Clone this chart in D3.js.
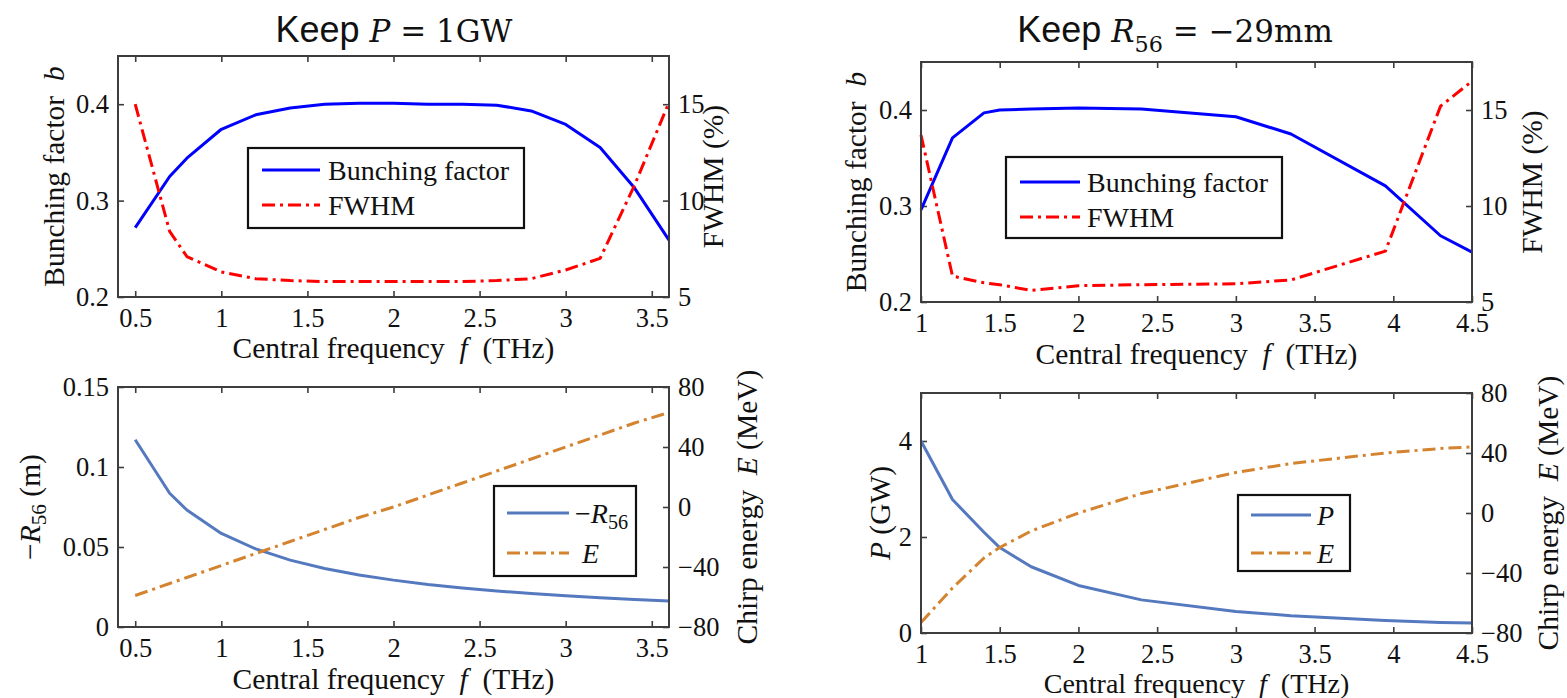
<!DOCTYPE html>
<html>
<head>
<meta charset="utf-8">
<script src="https://cdn.jsdelivr.net/npm/d3@7"></script>
<style>
  body { margin: 0; background: #fff; }
  svg text { font-family: "Liberation Serif", "Times New Roman", serif; fill: #111; }
</style>
</head>
<body>
<svg id="fig" width="1567" height="698"></svg>
<script>
// ---- Left column: constant peak power P = 1 GW ----
const freqP  = [0.5, 0.7, 0.8, 1.0, 1.2, 1.4, 1.6, 1.8, 2.0, 2.2, 2.4, 2.6, 2.8, 3.0, 3.2, 3.4, 3.6];
const bunchP = [0.272, 0.325, 0.344, 0.374, 0.389, 0.396, 0.400, 0.401, 0.401, 0.400, 0.400, 0.399, 0.393, 0.379, 0.355, 0.313, 0.259];
const fwhmP  = [15.0, 8.4, 7.1, 6.3, 5.95, 5.85, 5.8, 5.8, 5.8, 5.8, 5.8, 5.85, 5.95, 6.4, 7.0, 10.8, 15.1];
const r56P   = [0.117, 0.0836, 0.0731, 0.0585, 0.0488, 0.0418, 0.0366, 0.0325, 0.0293, 0.0266, 0.0244, 0.0225, 0.0209, 0.0195, 0.0183, 0.0172, 0.0163];
const chirpP = [-59, -51, -47, -39, -31, -23, -15, -7, 0, 8, 16, 24, 32, 40, 48, 56, 63];

// ---- Right column: constant R56 = -29 mm ----
const freqR  = [1.0, 1.2, 1.4, 1.5, 1.7, 2.0, 2.4, 3.0, 3.35, 3.95, 4.3, 4.5];
const bunchR = [0.296, 0.371, 0.397, 0.400, 0.401, 0.402, 0.401, 0.393, 0.375, 0.321, 0.269, 0.252];
const fwhmR  = [13.7, 6.35, 6.0, 5.9, 5.6, 5.85, 5.9, 5.95, 6.15, 7.65, 15.2, 16.5];
const powerR = [4.0, 2.78, 2.1, 1.78, 1.38, 0.99, 0.69, 0.45, 0.36, 0.26, 0.22, 0.21];
const chirpR = [-73, -50, -30, -23, -12, 0, 13, 27, 33, 40, 43, 44];

// ---- Tick values ----
const xTicksP    = [0.5, 1, 1.5, 2, 2.5, 3, 3.5];
const xTicksR    = [1, 1.5, 2, 2.5, 3, 3.5, 4, 4.5];
const bTicks     = [0.2, 0.3, 0.4];
const fwhmTicks  = [5, 10, 15];
const r56Ticks   = [0, 0.05, 0.1, 0.15];
const powerTicks = [0, 2, 4];
const chirpTicks = [-80, -40, 0, 40, 80];

const SERIF = '"Liberation Serif", "Times New Roman", serif';
const SANS = '"Liberation Sans", Arial, sans-serif';
const MATH = '"DejaVu Serif", serif';
const TICK_FS = 26.5, LABEL_FS = 29.5, LEG_FS = 28;
const BOX = "#3d3d3d";

const svg = d3.select("#fig");

// Append tspans; parts: {t, it, sub, font, size}
function rich(sel, parts, size) {
  let shift = 0;
  parts.forEach(p => {
    const ts = sel.append("tspan").text(p.t);
    const fs = p.size || size;
    if (p.size) ts.attr("font-size", p.size);
    if (p.it) ts.attr("font-style", "italic");
    if (p.font) ts.style("font-family", p.font);
    if (p.sub) {
      ts.attr("font-size", fs * 0.72).attr("dy", fs * 0.32);
      shift = fs * 0.32;
    } else if (shift) {
      ts.attr("dy", -shift);
      shift = 0;
    }
  });
  return sel;
}

function styleAxis(g) {
  g.attr("font-family", SERIF).attr("font-size", TICK_FS).attr("color", "#111");
  g.select(".domain").remove();
  g.selectAll(".tick line").attr("stroke", BOX).attr("stroke-width", 1.6);
}

function panel(c) {
  const g = svg.append("g");
  const x  = d3.scaleLinear().domain(c.xDomain).range([c.left, c.right]);
  const yL = d3.scaleLinear().domain(c.yLDomain).range([c.bottom, c.top]);
  const yR = d3.scaleLinear().domain(c.yRDomain).range([c.bottom, c.top]);
  const fmt = d3.format("~g");

  g.append("g").attr("transform", `translate(0,${c.bottom})`)
    .call(d3.axisBottom(x).tickValues(c.xTicks).tickFormat(fmt).tickSize(-6).tickPadding(11))
    .call(styleAxis);
  g.append("g").attr("transform", `translate(0,${c.top})`)
    .call(d3.axisTop(x).tickValues(c.xTicks).tickFormat("").tickSize(-6))
    .call(styleAxis);
  g.append("g").attr("transform", `translate(${c.left},0)`)
    .call(d3.axisLeft(yL).tickValues(c.yLTicks).tickFormat(fmt).tickSize(-6).tickPadding(9))
    .call(styleAxis);
  g.append("g").attr("transform", `translate(${c.right},0)`)
    .call(d3.axisRight(yR).tickValues(c.yRTicks).tickFormat(fmt).tickSize(-6).tickPadding(9))
    .call(styleAxis);

  // series
  c.series.forEach(s => {
    const sc = s.axis === "L" ? yL : yR;
    const line = d3.line().x(d => x(d[0])).y(d => sc(d[1]));
    g.append("path")
      .datum(d3.zip(s.x, s.y))
      .attr("d", line)
      .attr("fill", "none")
      .attr("stroke", s.color)
      .attr("stroke-width", 3)
      .attr("stroke-linejoin", "round")
      .attr("stroke-dasharray", s.dash || null);
  });

  // plot box
  g.append("rect")
    .attr("x", c.left).attr("y", c.top)
    .attr("width", c.right - c.left).attr("height", c.bottom - c.top)
    .attr("fill", "none").attr("stroke", BOX).attr("stroke-width", 2);

  // x label
  rich(g.append("text")
      .attr("x", (c.left + c.right) / 2).attr("y", c.xLabelY)
      .attr("text-anchor", "middle").attr("font-size", c.xLabelFs || LABEL_FS)
      .style("white-space", "pre"),
    [{t: "Central frequency  "}, {t: "f", it: true}, {t: "  (THz)"}], c.xLabelFs || LABEL_FS);

  // y labels
  rich(g.append("text")
      .attr("transform", `translate(${c.yLLabelX},${(c.top + c.bottom) / 2}) rotate(-90)`)
      .attr("text-anchor", "middle").attr("dominant-baseline", "central")
      .attr("font-size", LABEL_FS).style("white-space", "pre"),
    c.yLLabel, LABEL_FS);
  rich(g.append("text")
      .attr("transform", `translate(${c.yRLabelX},${(c.top + c.bottom) / 2}) rotate(-90)`)
      .attr("text-anchor", "middle").attr("dominant-baseline", "central")
      .attr("font-size", LABEL_FS).style("white-space", "pre"),
    c.yRLabel, LABEL_FS);

  // legend
  const L = c.legend;
  const lg = g.append("g");
  lg.append("rect").attr("x", L.x0).attr("y", L.y0)
    .attr("width", L.x1 - L.x0).attr("height", L.y1 - L.y0)
    .attr("fill", "#fff").attr("stroke", "#111").attr("stroke-width", 2.2);
  L.rows.forEach((r, i) => {
    const s = c.series[i];
    lg.append("line").attr("x1", L.lx0).attr("x2", L.lx1)
      .attr("y1", r).attr("y2", r)
      .attr("stroke", s.color).attr("stroke-width", 3)
      .attr("stroke-dasharray", s.dash || null);
    rich(lg.append("text").attr("x", L.tx).attr("y", r)
        .attr("dominant-baseline", "central").attr("font-size", LEG_FS)
        .style("white-space", "pre"),
      L.labels[i], LEG_FS);
  });
}

const BLUE = "#0000ff", RED = "#ff0000";
const STEEL = "#5479bf", ORANGE = "#d4832f";
const DASHDOT = "13,5,3,5";

// top-left
panel({
  left: 118, right: 669, top: 56, bottom: 297,
  xDomain: [0.4, 3.6], yLDomain: [0.2, 0.45], yRDomain: [5, 17.5],
  xTicks: xTicksP, yLTicks: bTicks, yRTicks: fwhmTicks,
  series: [
    {x: freqP, y: bunchP, axis: "L", color: BLUE},
    {x: freqP, y: fwhmP, axis: "R", color: RED, dash: DASHDOT}
  ],
  xLabelY: 358, yLLabelX: 54, yRLabelX: 713,
  yLLabel: [{t: "Bunching factor  "}, {t: "b", it: true}],
  yRLabel: [{t: "FWHM (%)"}],
  legend: {x0: 248, x1: 524, y0: 148, y1: 228, rows: [170, 205], lx0: 262, lx1: 320, tx: 328,
    labels: [[{t: "Bunching factor"}], [{t: "FWHM"}]]}
});

// bottom-left
panel({
  left: 118, right: 669, top: 387, bottom: 627,
  xDomain: [0.4, 3.6], yLDomain: [0, 0.15], yRDomain: [-80, 80],
  xTicks: xTicksP, yLTicks: r56Ticks, yRTicks: chirpTicks,
  series: [
    {x: freqP, y: r56P, axis: "L", color: STEEL},
    {x: freqP, y: chirpP, axis: "R", color: ORANGE, dash: DASHDOT}
  ],
  xLabelY: 689, yLLabelX: 30, yRLabelX: 747,
  yLLabel: [{t: "\u2212"}, {t: "R", it: true}, {t: "56", sub: true}, {t: " (m)"}],
  yRLabel: [{t: "Chirp energy  "}, {t: "E", it: true}, {t: " (MeV)"}],
  legend: {x0: 494, x1: 636, y0: 486, y1: 576, rows: [513, 553], lx0: 507, lx1: 569, tx: 575,
    labels: [[{t: "\u2212"}, {t: "R", it: true}, {t: "56", sub: true}], [{t: " "}, {t: "E", it: true}]]}
});

// top-right
panel({
  left: 921, right: 1472, top: 62, bottom: 302,
  xDomain: [1, 4.5], yLDomain: [0.2, 0.45], yRDomain: [5, 17.5],
  xTicks: xTicksR, yLTicks: bTicks, yRTicks: fwhmTicks,
  series: [
    {x: freqR, y: bunchR, axis: "L", color: BLUE},
    {x: freqR, y: fwhmR, axis: "R", color: RED, dash: DASHDOT}
  ],
  xLabelY: 364, yLLabelX: 856, yRLabelX: 1532,
  yLLabel: [{t: "Bunching factor  "}, {t: "b", it: true}],
  yRLabel: [{t: "FWHM (%)"}],
  legend: {x0: 1006, x1: 1282, y0: 157, y1: 238, rows: [182, 217], lx0: 1020, lx1: 1080, tx: 1087,
    labels: [[{t: "Bunching factor"}], [{t: "FWHM"}]]}
});

// bottom-right
panel({
  left: 921, right: 1472, top: 393, bottom: 633,
  xDomain: [1, 4.5], yLDomain: [0, 5], yRDomain: [-80, 80],
  xTicks: xTicksR, yLTicks: powerTicks, yRTicks: chirpTicks,
  series: [
    {x: freqR, y: powerR, axis: "L", color: STEEL},
    {x: freqR, y: chirpR, axis: "R", color: ORANGE, dash: DASHDOT}
  ],
  xLabelY: 693, xLabelFs: 28, yLLabelX: 880, yRLabelX: 1548,
  yLLabel: [{t: "P", it: true}, {t: " (GW)"}],
  yRLabel: [{t: "Chirp energy  "}, {t: "E", it: true}, {t: " (MeV)"}],
  legend: {x0: 1238, x1: 1350, y0: 495, y1: 571, rows: [515, 553], lx0: 1251, lx1: 1311, tx: 1317,
    labels: [[{t: "P", it: true}], [{t: "E", it: true}]]}
});

// column titles: sans-serif word followed by a math expression
const TITLE_FS = 36, MATH_FS = 31;
rich(svg.append("text").attr("x", 394).attr("y", 42)
    .attr("text-anchor", "middle").attr("font-size", TITLE_FS).style("white-space", "pre"),
  [{t: "Keep ", font: SANS},
   {t: "P", it: true, font: MATH, size: MATH_FS},
   {t: " = 1GW", font: MATH, size: MATH_FS}], TITLE_FS);
rich(svg.append("text").attr("x", 1175).attr("y", 42)
    .attr("text-anchor", "middle").attr("font-size", TITLE_FS).style("white-space", "pre"),
  [{t: "Keep ", font: SANS},
   {t: "R", it: true, font: MATH, size: MATH_FS},
   {t: "56", sub: true, font: MATH, size: MATH_FS},
   {t: " = \u221229mm", font: MATH, size: MATH_FS}], TITLE_FS);
</script>
</body>
</html>
